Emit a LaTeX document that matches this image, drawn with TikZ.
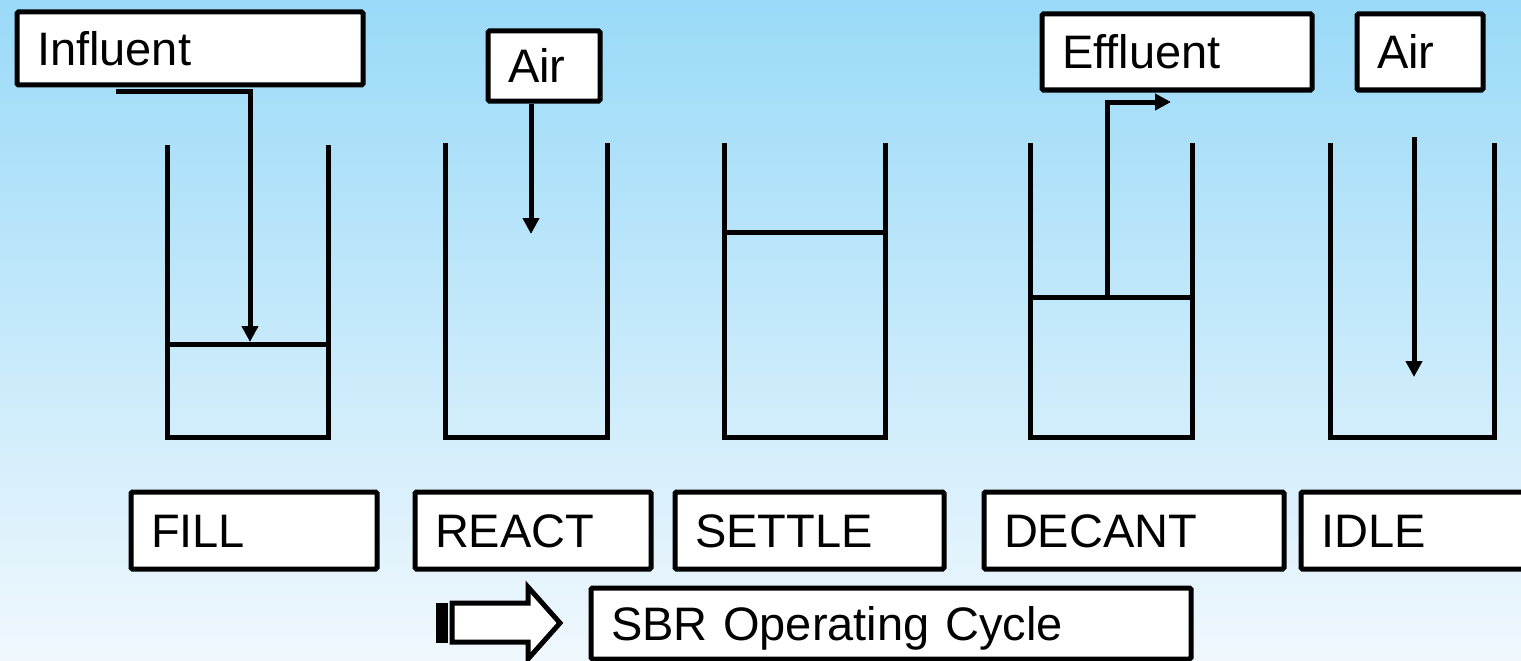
\documentclass[tikz,border=0pt]{standalone}
\usepackage{fontspec}
\setmainfont{Liberation Sans}
\usetikzlibrary{arrows.meta,calc}
\definecolor{skytop}{RGB}{154,218,248}
\definecolor{skymid}{RGB}{184,228,249}
\definecolor{skybot}{RGB}{240,248,253}

\begin{document}
\begin{tikzpicture}[x=1pt,y=-1pt,
  lbl/.style={draw=black, line width=5pt, fill=white, rounded corners=1.5pt,
    anchor=north west, inner xsep=20pt, inner ysep=0pt, align=left,
    font=\fontsize{47}{50}\selectfont, text height=34pt, text depth=0pt},
  wall/.style={line width=5pt},
  flow/.style={line width=5pt, -{Triangle[width=16pt,length=16pt]}}
]
% canvas and background gradient
\useasboundingbox (0,0) rectangle (1521,661);
\clip (0,0) rectangle (1521,661);
\shade[top color=skytop, middle color=skymid, bottom color=skybot] (0,0) rectangle (1521,661);

% top labels
\node[lbl, minimum width=346pt, minimum height=73pt, text width=306pt] (influent) at (14.5,9.5) {Influent};
\node[lbl, minimum width=112pt, minimum height=70pt, text width=72pt] (airA) at (485.5,28.5) {Air};
\node[lbl, minimum width=270pt, minimum height=76pt, text width=230pt] (effluent) at (1039.5,11.5) {Effluent};
\node[lbl, minimum width=126pt, minimum height=76pt, text width=86pt] (airB) at (1354.5,11.5) {Air};

% phase labels
\node[lbl, minimum width=246pt, minimum height=77pt, text width=206pt] (fill) at (128.5,489.5) {FILL};
\node[lbl, minimum width=236pt, minimum height=77pt, text width=196pt] (react) at (412.5,489.5) {REACT};
\node[lbl, minimum width=269pt, minimum height=77pt, text width=229pt] (settle) at (672.5,489.5) {SETTLE};
\node[lbl, minimum width=300pt, minimum height=77pt, text width=260pt] (decant) at (981.5,489.5) {DECANT};
\node[lbl, minimum width=240pt, minimum height=77pt, text width=200pt] (idle) at (1298.5,489.5) {IDLE};
\node[lbl, minimum width=600pt, minimum height=71pt, text width=560pt] (sbr) at (588.5,585.5) {SBR Operating Cycle};

% tanks
\draw[wall] (167,145) -- (167,437) -- (328,437) -- (328,145);
\draw[wall] (167,344) -- (328,344);
\draw[wall] (445,143) -- (445,437) -- (607,437) -- (607,143);
\draw[wall] (724,143) -- (724,437) -- (885,437) -- (885,143);
\draw[wall] (724,232) -- (885,232);
\draw[wall] (1030,143) -- (1030,437) -- (1192,437) -- (1192,143);
\draw[wall] (1030,297) -- (1192,297);
\draw[wall] (1330,143) -- (1330,437) -- (1494,437) -- (1494,143);

% flows
\coordinate (inStart) at (116,91);
\coordinate (inEnd) at (250,342);
\draw[flow] (inStart) -| (inEnd);
\coordinate (airAout) at ($(airA.south west)+(45.5,0)$);
\coordinate (airAend) at (531,234);
\draw[flow] (airAout) -- (airAend);
\coordinate (decStart) at (1107,297);
\coordinate (decEnd) at (1171,102);
\draw[flow] (decStart) |- (decEnd);
\coordinate (idleStart) at (1414,137);
\coordinate (idleEnd) at (1414,377);
\draw[flow] (idleStart) -- (idleEnd);

% striped block arrow
\draw[line width=5pt, fill=black] (438,605) rectangle (445,640);
\draw[line width=5pt, fill=white, line join=miter]
  (452,603) -- (528,603) -- (528,587) -- (560,623) -- (528,659) -- (528,642) -- (452,642) -- cycle;
\end{tikzpicture}
\end{document}
